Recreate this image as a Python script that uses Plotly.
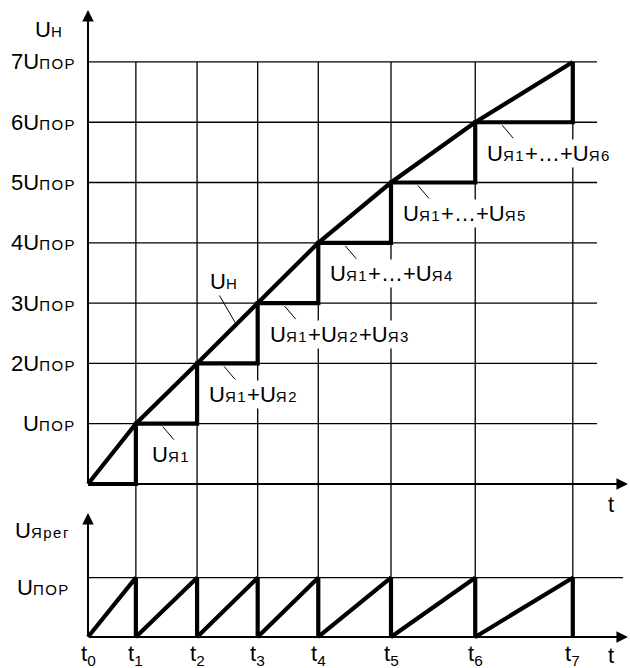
import plotly.graph_objects as go

# ---------------- data ----------------
# time instants t0..t7 (time units)
t = [0.0, 0.79, 1.80, 2.80, 3.80, 5.00, 6.39, 8.00]
# U_H reaches k*U_ПОР at instant t_k
u_levels = [0, 1, 2, 3, 4, 5, 6, 7]
# register voltage peak (in U_ПОР)
u_reg_peak = 1
# y tick labels (multiples of U_ПОР)
tick_vals = [1, 2, 3, 4, 5, 6, 7]
tick_mult = ["", "2", "3", "4", "5", "6", "7"]
# time tick subscripts
time_subs = ["0", "1", "2", "3", "4", "5", "6", "7"]
# callout texts for the accumulated sums
sum_idx = [1, 2, 3, 4, 5, 6]

FONT = "Liberation Sans, Arial, sans-serif"
BIG = 22
SMALL = 15


def S(s):
    return f"<span style='font-size:{SMALL}px;letter-spacing:1.5px'>{s}</span>"


def sum_text(k):
    if k == 1:
        return "U" + S("Я1")
    if k == 2:
        return "U" + S("Я1") + "+U" + S("Я2")
    if k == 3:
        return "U" + S("Я1") + "+U" + S("Я2") + "+U" + S("Я3")
    return "U" + S("Я1") + "+…+U" + S(f"Я{k}")


# ---------------- geometry of the canvas ----------------
X_RANGE = [-1.4521, 8.9439]
Y1_RANGE = [-0.348, 8.027]
Y2_RANGE = [-0.523, 2.226]
SPLIT = 0.24401
x_grid_end_top = 8.40
x_grid_end_bot = 8.83
x_arrow_tip = 8.91
y_arrow_top = 7.86
y_arrow_bot = 2.09

THIN = 1.3
THICK = 4.2

fig = go.Figure()

# ---------- top panel grid ----------
gx, gy = [], []
for k in tick_vals:
    gx += [t[0], x_grid_end_top, None]
    gy += [k, k, None]
for ti in t[1:]:
    gx += [ti, ti, None]
    gy += [u_levels[-1], Y1_RANGE[0] - 1, None]
fig.add_trace(go.Scatter(x=gx, y=gy, mode="lines", line=dict(color="black", width=THIN),
                         hoverinfo="skip", showlegend=False, xaxis="x", yaxis="y"))

# ---------- bottom panel grid ----------
bx, by = [t[0], x_grid_end_bot, None], [u_reg_peak, u_reg_peak, None]
for ti in t[1:]:
    bx += [ti, ti, None]
    by += [0, Y2_RANGE[1] + 1, None]
fig.add_trace(go.Scatter(x=bx, y=by, mode="lines", line=dict(color="black", width=THIN),
                         hoverinfo="skip", showlegend=False, xaxis="x", yaxis="y2"))

# ---------- staircase (sum of register voltages) ----------
sx, sy = [t[0]], [u_levels[0]]
for k in range(1, len(t)):
    sx += [t[k], t[k]]
    sy += [u_levels[k - 1], u_levels[k]]
fig.add_trace(go.Scatter(x=sx, y=sy, mode="lines", line=dict(color="black", width=THICK),
                         hoverinfo="skip", showlegend=False, xaxis="x", yaxis="y"))

# ---------- U_H curve ----------
fig.add_trace(go.Scatter(x=t, y=u_levels, mode="lines", line=dict(color="black", width=THICK),
                         hoverinfo="skip", showlegend=False, xaxis="x", yaxis="y"))

# ---------- sawtooth (register voltage) ----------
rx, ry = [t[0]], [0]
for k in range(1, len(t)):
    rx += [t[k], t[k]]
    ry += [u_reg_peak, 0]
fig.add_trace(go.Scatter(x=rx, y=ry, mode="lines", line=dict(color="black", width=THICK),
                         hoverinfo="skip", showlegend=False, xaxis="x", yaxis="y2"))

ann = []
font_big = dict(family=FONT, size=BIG, color="black")

# ---------- axes with arrows ----------
def arrow(x, y, ax, ay, yref):
    return dict(x=x, y=y, ax=ax, ay=ay, xref="x", yref=yref, axref="x", ayref=yref,
                text="", showarrow=True, arrowhead=2, arrowsize=1.15, arrowwidth=2,
                arrowcolor="black", standoff=0)

ann.append(arrow(t[0], y_arrow_top, t[0], 0, "y"))
ann.append(arrow(x_arrow_tip, 0, t[0], 0, "y"))
ann.append(arrow(t[0], y_arrow_bot, t[0], 0, "y2"))
ann.append(arrow(x_arrow_tip, 0, t[0], 0, "y2"))

# ---------- y tick labels ----------
for k, m in zip(tick_vals, tick_mult):
    ann.append(dict(x=t[0], y=k, xref="x", yref="y", text=f"{m}U" + S("ПОР"),
                    showarrow=False, xanchor="right", yanchor="middle", xshift=-10,
                    font=font_big))
ann.append(dict(x=t[0], y=y_arrow_top, xref="x", yref="y", text="U" + S("Н"),
                showarrow=False, xanchor="right", yanchor="middle", xshift=-23, yshift=-19,
                font=font_big))
ann.append(dict(x=t[0], y=u_reg_peak, xref="x", yref="y2", text="U" + S("ПОР"),
                showarrow=False, xanchor="right", yanchor="middle", xshift=-16, yshift=-10,
                font=font_big))
ann.append(dict(x=t[0], y=y_arrow_bot, xref="x", yref="y2", text="U" + S("Ярег"),
                showarrow=False, xanchor="right", yanchor="middle", xshift=-16, yshift=-17,
                font=font_big))

# ---------- time labels ----------
for ti, s in zip(t, time_subs):
    ann.append(dict(x=ti, y=0, xref="x", yref="y2", text=f"t<sub>{s}</sub>",
                    showarrow=False, xanchor="center", yanchor="top", yshift=-2,
                    font=font_big))
ann.append(dict(x=x_arrow_tip, y=0, xref="x", yref="y", text="t", showarrow=False,
                xanchor="center", yanchor="middle", xshift=-17, yshift=-20, font=font_big))
ann.append(dict(x=x_arrow_tip, y=0, xref="x", yref="y2", text="t", showarrow=False,
                xanchor="center", yanchor="top", xshift=-17, yshift=-4, font=font_big))

# ---------- callouts ----------
shapes = []
for k in sum_idx:
    ann.append(dict(x=t[k], y=u_levels[k], xref="x", yref="y", text=sum_text(k),
                    showarrow=False, xanchor="left", yanchor="middle",
                    xshift=10 if k > 1 else 14, yshift=-31, bgcolor="white", borderpad=1,
                    font=font_big))
    shapes.append(dict(type="line", xref="x", yref="y", xsizemode="pixel", ysizemode="pixel",
                       xanchor=t[k], yanchor=u_levels[k], x0=27, y0=-3, x1=38, y1=-16,
                       line=dict(color="black", width=1)))
# U_H callout
ann.append(dict(x=t[2], y=u_levels[2], xref="x", yref="y", text="U" + S("Н"),
                showarrow=False, xanchor="left", yanchor="middle", xshift=11, yshift=82,
                bgcolor="white", borderpad=1, font=font_big))
shapes.append(dict(type="line", xref="x", yref="y", xsizemode="pixel", ysizemode="pixel",
                   xanchor=t[2], yanchor=u_levels[2], x0=20, y0=72, x1=38, y1=41,
                   line=dict(color="black", width=1)))

fig.update_layout(
    width=630, height=668, autosize=False,
    margin=dict(l=0, r=0, t=0, b=0, pad=0),
    paper_bgcolor="white", plot_bgcolor="white",
    showlegend=False,
    xaxis=dict(range=X_RANGE, visible=False, fixedrange=True),
    yaxis=dict(range=Y1_RANGE, domain=[SPLIT, 1], visible=False, fixedrange=True),
    yaxis2=dict(range=Y2_RANGE, domain=[0, SPLIT], visible=False, fixedrange=True, anchor="x"),
    annotations=ann,
    shapes=shapes,
)

fig.write_html("out.html", config={"displayModeBar": False},
               post_script="document.body.style.margin='0';document.body.style.padding='0';")
